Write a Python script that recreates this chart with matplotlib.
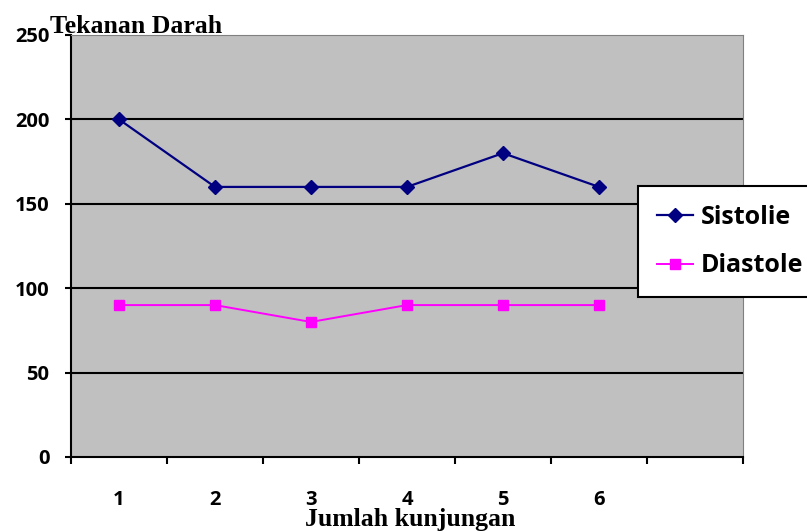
import matplotlib.pyplot as plt
import numpy as np

visits = ["1", "2", "3", "4", "5", "6"]
sistolie = [200, 160, 160, 160, 180, 160]
diastole = [90, 90, 80, 90, 90, 90]
n_cat = 7

fig = plt.figure(figsize=(8.07, 5.31), dpi=100)
ax = fig.add_axes([71/807, 1-457/531, (743-71)/807, (457-35)/531])
ax.set_facecolor("#C0C0C0")

x = np.arange(len(visits)) + 0.5
ax.plot(x, sistolie, color="#000080", marker="D", markersize=7.5, lw=1.6, label="Sistolie")
ax.plot(x, diastole, color="#FF00FF", marker="s", markersize=7.5, lw=1.4, label="Diastole")

ax.set_xlim(0, n_cat)
ax.set_ylim(0, 250)
ax.set_yticks([0, 50, 100, 150, 200, 250])
for yv in [50, 100, 150, 200]:
    ax.axhline(yv, color="black", lw=1.5, zorder=1)

ax.set_xticks(x)
ax.set_xticklabels(visits)
ax.set_xticks(np.arange(n_cat + 1), minor=True)
ax.tick_params(axis="x", which="major", length=0, pad=24)
ax.tick_params(axis="x", which="minor", length=5, width=1.5, direction="out")
ax.tick_params(axis="y", length=4.5, width=1.5, direction="out", pad=11)

for lab in ax.get_xticklabels() + ax.get_yticklabels():
    lab.set_family("Open Sans")
    lab.set_weight("bold")
    lab.set_fontsize(14.5)

ax.spines["left"].set_linewidth(1.5)
ax.spines["bottom"].set_linewidth(1.5)
ax.spines["top"].set_color("#808080")
ax.spines["right"].set_color("#808080")

fig.text(50/807, 1-33/531, "Tekanan Darah", family="Liberation Serif", weight="bold", fontsize=18.5,
         va="baseline")
fig.text(410/807, 1-526/531, "Jumlah kunjungan", family="Liberation Serif", weight="bold",
         fontsize=18.5, ha="center", va="baseline")

leg = ax.legend(loc="upper left", bbox_to_anchor=(638/807, 1-186/531), bbox_transform=fig.transFigure,
                prop={"family": "Open Sans", "weight": "bold", "size": 18},
                fancybox=False, edgecolor="black", framealpha=1, handlelength=1.45,
                borderpad=0.75, labelspacing=0.95, handletextpad=0.3, borderaxespad=0)
leg.get_frame().set_linewidth(1.5)
leg.set_zorder(5)

fig.savefig("out.png", dpi=100)
